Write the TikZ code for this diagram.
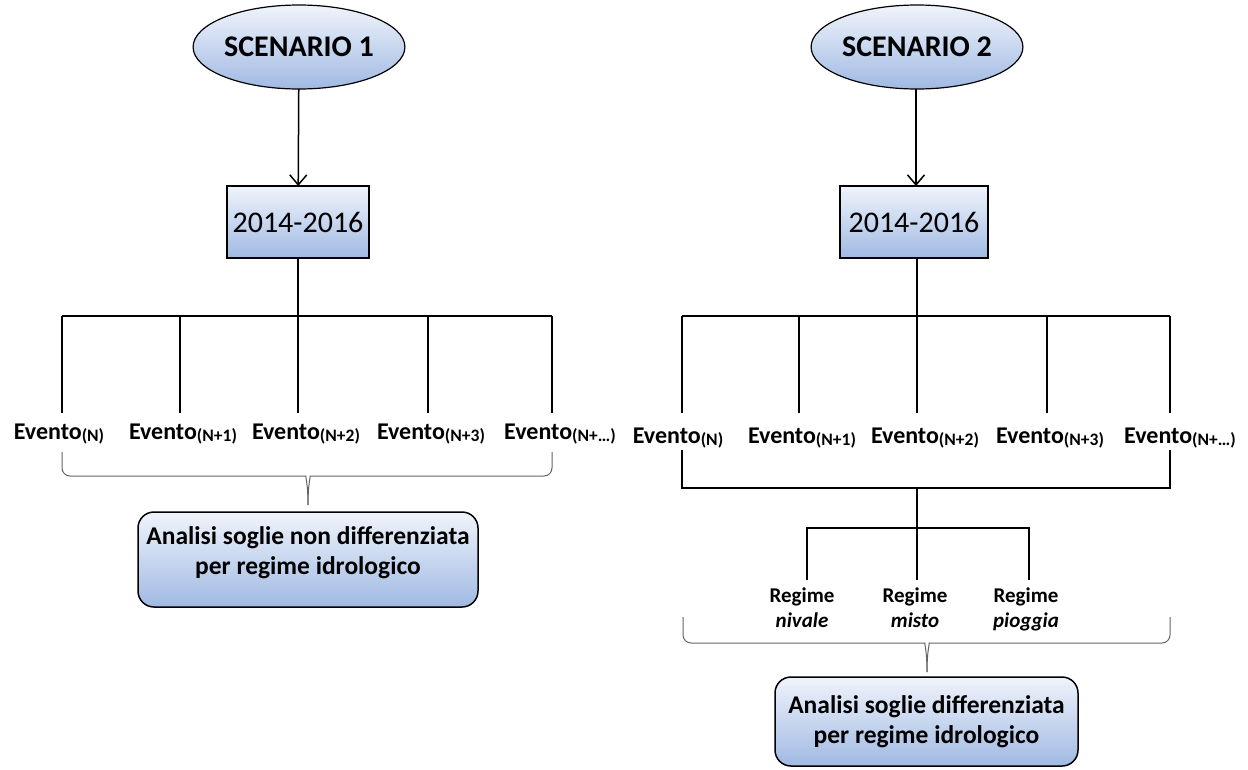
\documentclass[tikz,border=0pt]{standalone}
\usepackage{fontspec}
\setmainfont{Carlito}
\usetikzlibrary{arrows.meta,shapes.geometric}
\definecolor{gtop}{RGB}{240,244,251}
\definecolor{gbot}{RGB}{160,185,227}
\definecolor{bracegray}{RGB}{100,100,100}
\newcommand\evlab[1]{Evento\raisebox{-2pt}{\fontsize{17.5}{20}\selectfont(#1)}}
\begin{document}
\begin{tikzpicture}[x=1pt,y=-1pt,
  scen/.style={ellipse, draw=black, line width=1.2pt, top color=gtop, bottom color=gbot,
    minimum width=164pt, minimum height=84pt, inner sep=0pt, outer sep=0pt,
    font=\fontsize{30}{34}\selectfont\bfseries},
  yearbox/.style={rectangle, draw=black, line width=1.5pt, top color=gtop, bottom color=gbot,
    minimum width=142pt, minimum height=72pt, inner sep=0pt, outer sep=0pt,
    font=\fontsize{30}{34}\selectfont},
  resbox/.style={rectangle, rounded corners=16pt, draw=black, line width=1.5pt,
    top color=gtop, bottom color=gbot, inner sep=0pt, outer sep=0pt, align=center,
    font=\fontsize{25.5}{30}\selectfont\bfseries},
  evnode/.style={anchor=base, inner sep=0pt, font=\fontsize{24}{28}\selectfont\bfseries},
  regnode/.style={anchor=north, inner sep=0pt, align=center,
    font=\fontsize{21}{25}\selectfont\bfseries},
  link/.style={line width=1.6pt, draw=black},
  flow/.style={line width=1.5pt, -{Straight Barb[length=10pt,width=17pt,line width=1.5pt]}},
  bracket/.style={line width=1pt, draw=bracegray, rounded corners=8pt}
]
\useasboundingbox (0,0) rectangle (1248,769);

% ---------------- SCENARIO 1 ----------------
\node[scen] (s1) at (299,47) {SCENARIO 1};
\node[yearbox] (y1) at (298,222) {2014-2016};
\draw[flow] (s1) -- (y1);

\coordinate (h1c) at (298,316);
\coordinate (h1a) at (62,316);
\coordinate (h1b) at (180,316);
\coordinate (h1d) at (428,316);
\coordinate (h1e) at (552,316);
\coordinate (d1a) at (62,413);
\coordinate (d1b) at (180,413);
\coordinate (d1c) at (298,413);
\coordinate (d1d) at (428,413);
\coordinate (d1e) at (552,413);
\draw[link] (y1.south) -- (h1c);
\draw[link] (h1a) -- (h1e);
\foreach \p in {a,b,c,d,e} \draw[link] (h1\p) -- (d1\p);
\draw[link] (h1c) -- (d1c);

\node[evnode] (e1a) at (59,439) {\evlab{N}};
\node[evnode] (e1b) at (183,439) {\evlab{N+1}};
\node[evnode] (e1c) at (306,439) {\evlab{N+2}};
\node[evnode] (e1d) at (431,439) {\evlab{N+3}};
\node[evnode] (e1e) at (560,439) {\evlab{N+…}};

\coordinate (bl1) at (62,452);
\coordinate (br1) at (552,452);
\coordinate (tip1) at (308,505);
\draw[bracket] (bl1) |- (298,476) .. controls (305,476) and (308,482) .. (tip1);
\draw[bracket] (br1) |- (318,476) .. controls (311,476) and (308,482) .. (tip1);

\node[resbox, minimum width=340pt, minimum height=95pt, text depth=17pt] (a1) at (308,559.5)
  {Analisi soglie non differenziata\\per regime idrologico};

% ---------------- SCENARIO 2 ----------------
\node[scen, minimum width=168pt] (s2) at (917,47) {SCENARIO 2};
\node[yearbox, minimum width=148pt] (y2) at (914,222) {2014-2016};
\draw[flow] (s2.south -| 916,0) -- (y2.north -| 916,0);

\coordinate (h2c) at (917,316);
\coordinate (h2a) at (682,316);
\coordinate (h2b) at (799,316);
\coordinate (h2d) at (1047,316);
\coordinate (h2e) at (1170,316);
\coordinate (d2a) at (682,413);
\coordinate (d2b) at (799,413);
\coordinate (d2c) at (917,413);
\coordinate (d2d) at (1047,413);
\coordinate (d2e) at (1170,413);
\draw[link] (y2.south -| h2c) -- (h2c);
\draw[link] (h2a) -- (h2e);
\foreach \p in {a,b,c,d,e} \draw[link] (h2\p) -- (d2\p);

\node[evnode] (e2a) at (678,443) {\evlab{N}};
\node[evnode] (e2b) at (802,443) {\evlab{N+1}};
\node[evnode] (e2c) at (925,443) {\evlab{N+2}};
\node[evnode] (e2d) at (1050,443) {\evlab{N+3}};
\node[evnode] (e2e) at (1180,443) {\evlab{N+…}};

\coordinate (u2a) at (682,450);
\coordinate (u2e) at (1170,450);
\coordinate (m2) at (917,488);
\coordinate (r2c) at (917,528);
\coordinate (ra) at (807,580);
\coordinate (rb) at (917,580);
\coordinate (rc) at (1029,580);
\draw[link] (u2a) |- (m2) -| (u2e);
\draw[link] (m2) -- (rb);
\draw[link] (ra) |- (r2c) -| (rc);

\node[regnode] (g1) at (802,588) {Regime\\\textit{nivale}};
\node[regnode] (g2) at (915,588) {Regime\\\textit{misto}};
\node[regnode] (g3) at (1026,588) {Regime\\\textit{pioggia}};

\coordinate (bl2) at (683,617);
\coordinate (br2) at (1170,617);
\coordinate (tip2) at (927,672);
\draw[bracket] (bl2) |- (917,643) .. controls (924,643) and (927,649) .. (tip2);
\draw[bracket] (br2) |- (937,643) .. controls (930,643) and (927,649) .. (tip2);

\node[resbox, minimum width=303pt, minimum height=89pt] (a2) at (926.5,721.5)
  {Analisi soglie differenziata\\per regime idrologico};
\end{tikzpicture}
\end{document}
